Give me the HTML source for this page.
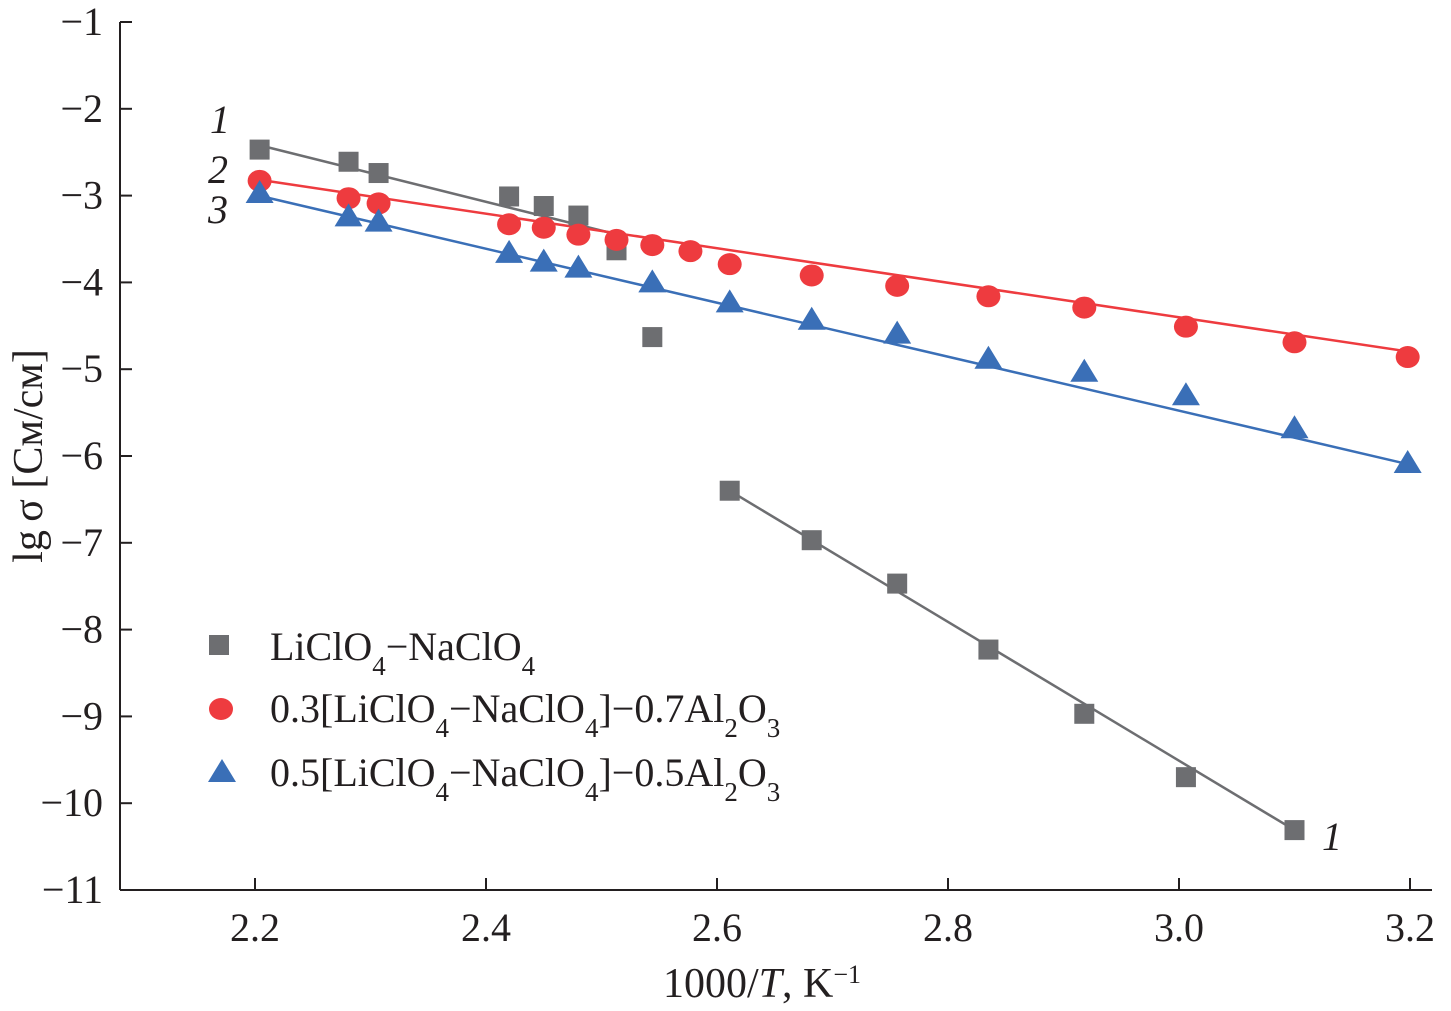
<!DOCTYPE html>
<html><head><meta charset="utf-8">
<style>
body{margin:0;background:#fff;}
svg text{font-family:"Liberation Serif",serif;fill:#231f20;}
</style></head>
<body>
<svg id="chart" width="1451" height="1006" viewBox="0 0 1451 1006" xmlns="http://www.w3.org/2000/svg"></svg>
<script>
const xTicks=[2.2,2.4,2.6,2.8,3.0,3.2];
const xTickLabels=["2.2","2.4","2.6","2.8","3.0","3.2"];
const yTicks=[-1,-2,-3,-4,-5,-6,-7,-8,-9,-10,-11];
const yTickLabels=["\u22121","\u22122","\u22123","\u22124","\u22125","\u22126","\u22127","\u22128","\u22129","\u221210","\u221211"];
const s1x=[2.204,2.281,2.307,2.420,2.450,2.480,2.513,2.544,2.611,2.682,2.756,2.835,2.918,3.006,3.100];
const s1y=[-2.47,-2.61,-2.74,-3.01,-3.12,-3.23,-3.63,-4.63,-6.40,-6.97,-7.47,-8.23,-8.97,-9.70,-10.31];
const s2x=[2.204,2.281,2.307,2.420,2.450,2.480,2.513,2.544,2.577,2.611,2.682,2.756,2.835,2.918,3.006,3.100,3.198];
const s2y=[-2.83,-3.03,-3.09,-3.33,-3.37,-3.45,-3.51,-3.57,-3.64,-3.79,-3.92,-4.04,-4.16,-4.29,-4.51,-4.69,-4.86];
const s3x=[2.204,2.281,2.307,2.420,2.450,2.480,2.544,2.611,2.682,2.756,2.835,2.918,3.006,3.100,3.198];
const s3y=[-2.97,-3.24,-3.30,-3.66,-3.76,-3.83,-4.00,-4.23,-4.43,-4.59,-4.88,-5.03,-5.30,-5.68,-6.08];
const fit1a=[[2.204,-2.42],[2.52,-3.47]];
const fit1b=[[2.611,-6.40],[3.100,-10.31]];
const fit2=[[2.2,-2.81],[3.2,-4.80]];
const fit3=[[2.2,-2.99],[3.2,-6.10]];

const NS="http://www.w3.org/2000/svg";
const svg=document.getElementById('chart');
const X=v=>255+(v-2.2)*1155;
const Y=v=>22+(-1-v)*86.8;
function mk(tag,attrs,parent){const e=document.createElementNS(NS,tag);for(const k in attrs)e.setAttribute(k,attrs[k]);(parent||svg).appendChild(e);return e;}
function txt(x,y,s,size,anchor,parent,style){const t=mk('text',{x:x,y:y,'font-size':size,'text-anchor':anchor||'start'},parent);if(style)t.setAttribute('font-style',style);t.innerHTML=s;return t;}

const ax=mk('g',{});


mk('line',{x1:120,y1:22,x2:120,y2:890,stroke:'#231f20','stroke-width':2},ax);
mk('line',{x1:120,y1:890,x2:1432,y2:890,stroke:'#231f20','stroke-width':2},ax);
xTicks.forEach((v,i)=>{
  mk('line',{x1:X(v),y1:890,x2:X(v),y2:878,stroke:'#231f20','stroke-width':2},ax);
  const t=txt(X(v),941,xTickLabels[i],40,'middle',ax);
  
  
});
yTicks.forEach((v,i)=>{
  mk('line',{x1:120,y1:Y(v),x2:132,y2:Y(v),stroke:'#231f20','stroke-width':2},ax);
  const t=txt(103,Y(v)+13,yTickLabels[i],40,'end',ax);
  
  
});
const xt=txt(762,997,'1000/<tspan font-style="italic">T</tspan>, K<tspan baseline-shift="super" font-size="26">\u22121</tspan>',42,'middle');


const yt=txt(0,0,'lg\u2009\u03c3 [См/см]',42,'middle');
yt.setAttribute('transform','translate(42,456) rotate(-90)');



function line(p,color,name){const l=mk('line',{x1:X(p[0][0]),y1:Y(p[0][1]),x2:X(p[1][0]),y2:Y(p[1][1]),stroke:color,'stroke-width':2.5});

}
line(fit1a,'#6d6e71','fit-line-1-high');
line(fit1b,'#6d6e71','fit-line-1-low');
line(fit2,'#ee3b3f','fit-line-2');
line(fit3,'#3a6fb7','fit-line-3');

function sq(cx,cy,c,p){return mk('rect',{x:cx-10,y:cy-10,width:20,height:20,fill:c},p);}
function ci(cx,cy,c,p){return mk('ellipse',{cx:cx,cy:cy,rx:12,ry:11,fill:c},p);}
function tr(cx,cy,c,p){return mk('polygon',{points:`${cx},${cy-13} ${cx+14},${cy+10} ${cx-14},${cy+10}`,fill:c},p);}
const g1=mk('g',{});
s1x.forEach((v,i)=>{const e=sq(X(v),Y(s1y[i]),'#6d6e71',g1);});
const g2=mk('g',{});
s2x.forEach((v,i)=>{const e=ci(X(v),Y(s2y[i]),'#ee3b3f',g2);});
const g3=mk('g',{});
s3x.forEach((v,i)=>{const e=tr(X(v),Y(s3y[i]),'#3a6fb7',g3);});

[[210,133,'1'],[208,183,'2'],[208,223,'3'],[1322,850,'1']].forEach(a=>{const t=txt(a[0],a[1],a[2],40,'start',null,'italic');

});

const lg=mk('g',{});
sq(219,645,'#6d6e71',lg);ci(221,709,'#ee3b3f',lg);tr(222,772,'#3a6fb7',lg);
const sub=s=>`<tspan baseline-shift="sub" font-size="27">${s}</tspan>`;
const l1=txt(270,660,'LiClO'+sub('4')+'\u2212NaClO'+sub('4'),40,'start',lg);

const l2=txt(270,722,'0.3[LiClO'+sub('4')+'\u2212NaClO'+sub('4')+']\u22120.7Al'+sub('2')+'O'+sub('3'),40,'start',lg);

const l3=txt(270,786,'0.5[LiClO'+sub('4')+'\u2212NaClO'+sub('4')+']\u22120.5Al'+sub('2')+'O'+sub('3'),40,'start',lg);

</script>
</body></html>
